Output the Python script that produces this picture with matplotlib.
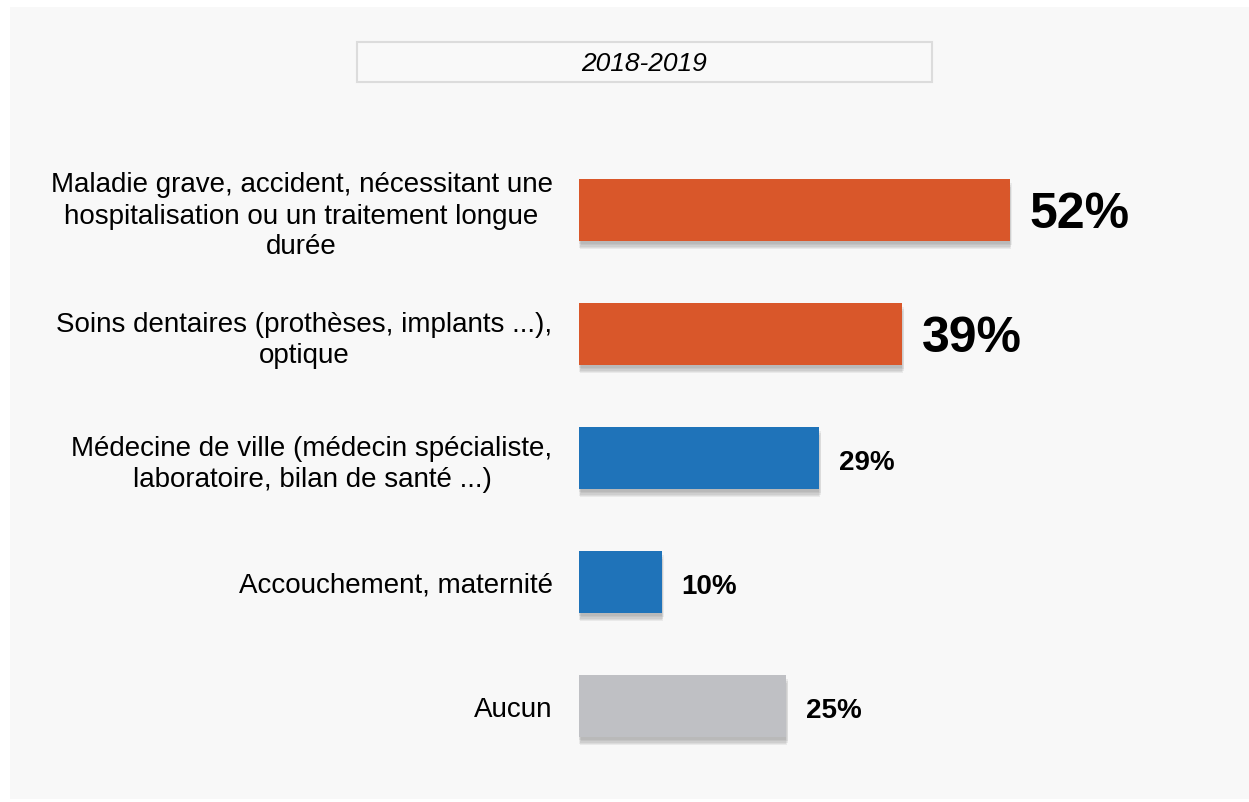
import matplotlib.pyplot as plt
import matplotlib.patches as mpatches
import matplotlib.patheffects as pe

plt.rcParams['font.family'] = ['Liberation Sans', 'DejaVu Sans']

# data
categories = ['Maladie grave, accident, nécessitant une\nhospitalisation ou un traitement longue\ndurée',
              'Soins dentaires (prothèses, implants ...),\noptique',
              'Médecine de ville (médecin spécialiste,\nlaboratoire, bilan de santé ...)',
              'Accouchement, maternité',
              'Aucun']
values = [52, 39, 29, 10, 25]
colors = ['#D9572A', '#D9572A', '#1F73B9', '#1F73B9', '#BFC0C4']
label_sizes = [36, 36, 20, 20, 20]
period = '2018-2019'

W, H = 1249, 803
fig = plt.figure(figsize=(W / 100, H / 100), dpi=100)
fig.patch.set_facecolor('white')

# light grey panel behind everything
fig.patches.append(mpatches.Rectangle((10 / W, 3 / H), 1 - 10 / W, (795 - 3) / H,
                                      transform=fig.transFigure, facecolor='#F8F8F8',
                                      edgecolor='none', zorder=-5))

# period box at top
fig.patches.append(mpatches.Rectangle((357 / W, 1 - 83 / H), (932 - 357) / W, 40 / H,
                                      transform=fig.transFigure, facecolor='#F9F9F9',
                                      edgecolor='#DCDCDC', linewidth=1.5, zorder=-4))
fig.text((357 + 932) / 2 / W, 1 - 64 / H, period, ha='center', va='center',
         fontsize=19, style='italic', color='black')

ax = fig.add_axes([579 / W, 1 - 769 / H, 663 / W, (769 - 149) / H])
ax.set_facecolor('none')

ypos = list(range(len(values)))
bars = ax.barh(ypos, values, height=0.5, color=colors, zorder=3)
# soft drop shadow: a few stacked faint copies
shadow = [pe.SimplePatchShadow(offset=(dx, dy), shadow_rgbFace='#555555', alpha=0.09)
          for dx, dy in [(0, -5), (1, -4), (1.5, -3), (0.5, -6), (0, -2)]]
for b in bars:
    b.set_path_effects(shadow + [pe.Normal()])

for y, v, s in zip(ypos, values, label_sizes):
    ax.annotate(f'{v}%', (v, y), xytext=(14, -3), textcoords='offset points',
                ha='left', va='center', fontsize=s, fontweight='bold', color='black')

ax.set_xlim(0, 80)
ax.set_ylim(4.5, -0.5)
ax.set_yticks(ypos)
ax.set_yticklabels(categories, fontsize=20, multialignment='center', linespacing=1.25)
ax.tick_params(axis='y', length=0, pad=19)
ax.set_xticks([])
for sp in ax.spines.values():
    sp.set_visible(False)

fig.savefig('out.png', dpi=100)
